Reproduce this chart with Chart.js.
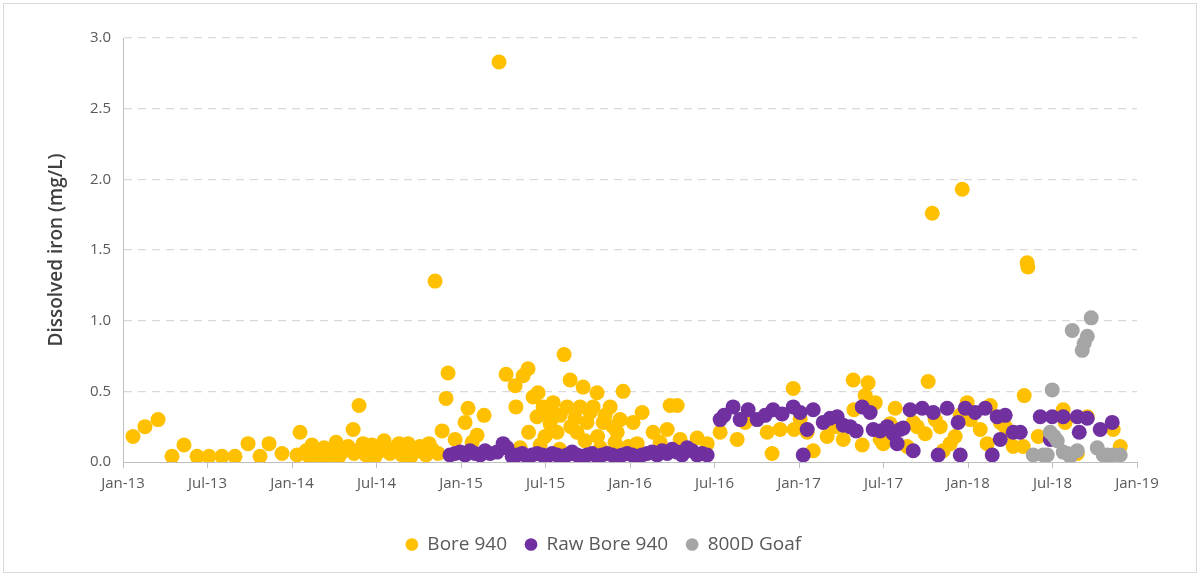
<!DOCTYPE html>
<html>
<head>
<meta charset="utf-8">
<script src="https://cdn.jsdelivr.net/npm/chart.js@4.4.1/dist/chart.umd.min.js"></script>
<style>
    html, body { margin: 0; padding: 0; background: #fff; }
    #wrap { width: 1200px; height: 576px; }
</style>
</head>
<body>
<div id="wrap"><canvas id="chart" width="1200" height="576"></canvas></div>
<script>
/* x values are months since Jan-2013 */
const tickMonths = [0, 6, 12, 18, 24, 30, 36, 42, 48, 54, 60, 66, 72];
const tickLabels = ["Jan-13", "Jul-13", "Jan-14", "Jul-14", "Jan-15", "Jul-15", "Jan-16",
                    "Jul-16", "Jan-17", "Jul-17", "Jan-18", "Jul-18", "Jan-19"];

// Bore 940
const boreMonths = [0.71, 1.56, 2.49, 3.48, 4.33, 5.26, 6.11, 7.03, 7.95, 8.88, 9.73, 10.37, 11.29, 12.36, 12.57,
    13.0, 13.21, 13.42, 13.85, 14.06, 14.28, 14.70, 15.13, 15.34, 15.55, 15.77, 15.98, 16.34, 16.41, 16.76, 16.83,
    17.05, 17.26, 17.68, 17.90, 18.11, 18.54, 18.75, 18.96, 19.39, 19.60, 19.82, 20.24, 20.45, 20.67, 21.09, 21.31,
    21.52, 21.73, 21.95, 22.16, 22.37, 22.66, 22.94, 23.08, 23.58, 24.29, 24.50, 24.79, 25.14, 25.64, 26.70,
    27.20, 27.84, 27.90, 28.20, 28.41, 28.76, 28.80, 29.12, 29.40, 29.47, 29.62, 29.83, 29.97, 30.18, 30.33, 30.54,
    30.82, 31.00, 31.04, 31.32, 31.53, 31.75, 31.80, 32.10, 32.24, 32.46, 32.67, 32.81, 32.95, 33.17, 33.38, 33.66,
    33.70, 33.90, 34.09, 34.23, 34.59, 34.80, 34.94, 35.09, 35.30, 35.51,
    35.90, 36.22, 36.51, 36.86, 37.64, 38.14, 38.64, 38.85, 39.35, 39.56, 40.77, 41.48,
    42.40, 43.61, 44.18, 45.74, 46.09, 46.66, 47.59, 47.65, 48.08, 48.58, 49.01, 50.00, 50.57, 51.14, 51.85, 51.90,
    52.49, 52.70, 52.91, 53.41, 53.76, 53.98, 54.12, 54.47, 54.83, 55.68, 56.11, 56.39, 56.96, 57.17, 57.46, 57.67,
    58.03, 58.24, 58.74, 59.09, 59.45, 59.59, 59.94, 60.16, 60.87, 61.36, 61.58, 62.29, 62.64, 63.00, 63.21, 63.92,
    63.99, 64.20, 64.25, 64.99, 66.76, 66.90, 67.76, 68.47, 70.31, 70.81];
const boreValues = [0.18, 0.25, 0.30, 0.04, 0.12, 0.04, 0.04, 0.04, 0.04, 0.13, 0.04, 0.13, 0.06, 0.05, 0.21,
    0.08, 0.04, 0.12, 0.06, 0.03, 0.10, 0.05, 0.14, 0.04, 0.07, 0.09, 0.11, 0.23, 0.06, 0.40, 0.09,
    0.13, 0.05, 0.12, 0.04, 0.07, 0.15, 0.09, 0.06, 0.10, 0.13, 0.05, 0.13, 0.04, 0.08, 0.11, 0.07,
    0.05, 0.13, 0.09, 1.28, 0.06, 0.22, 0.45, 0.63, 0.16, 0.28, 0.38, 0.14, 0.19, 0.33, 2.83,
    0.62, 0.54, 0.39, 0.10, 0.61, 0.66, 0.21, 0.46, 0.32, 0.49, 0.12, 0.39, 0.18, 0.35, 0.27, 0.42,
    0.21, 0.09, 0.33, 0.76, 0.39, 0.58, 0.25, 0.31, 0.21, 0.39, 0.53, 0.15, 0.28, 0.35, 0.39, 0.49,
    0.18, 0.10, 0.28, 0.33, 0.39, 0.25, 0.14, 0.21, 0.30, 0.50,
    0.11, 0.28, 0.13, 0.35, 0.21, 0.14, 0.23, 0.40, 0.40, 0.16, 0.17, 0.13,
    0.21, 0.16, 0.28, 0.21, 0.06, 0.23, 0.52, 0.23, 0.30, 0.21, 0.08, 0.18, 0.25, 0.16, 0.58, 0.37,
    0.12, 0.47, 0.56, 0.42, 0.16, 0.13, 0.20, 0.27, 0.38, 0.11, 0.28, 0.25, 0.20, 0.57, 1.76, 0.30,
    0.25, 0.08, 0.13, 0.18, 0.33, 1.93, 0.42, 0.30, 0.23, 0.13, 0.40, 0.28, 0.25, 0.20, 0.11, 0.11,
    0.47, 1.41, 1.38, 0.18, 0.37, 0.28, 0.06, 0.32, 0.23, 0.11];

// Raw Bore 940
const rawMonths = [23.22, 23.58, 23.93, 24.29, 24.64, 25.00, 25.36, 25.71, 26.07, 26.56, 26.99, 27.27, 27.63,
    27.98, 28.34, 28.69, 29.05, 29.40, 29.76, 30.11, 30.47, 30.82, 31.18, 31.53, 31.89, 32.24, 32.60, 32.95,
    33.31, 33.66, 34.02, 34.37, 34.73, 35.09, 35.44, 35.80, 36.15, 36.51, 36.86, 37.22, 37.57, 37.93, 38.28,
    38.64, 38.99, 39.35, 39.70, 40.06, 40.41, 40.77, 41.12, 41.48,
    42.40, 42.68, 43.32, 43.82, 44.39, 45.03, 45.60, 46.16, 46.80, 47.59, 48.08, 48.58, 48.30, 49.01, 49.72,
    50.21, 50.71, 51.14, 51.63, 52.06, 52.49, 53.05, 53.27, 53.76, 54.26, 54.69, 54.97, 55.18, 55.40, 55.89,
    56.11, 56.75, 57.53, 57.88, 58.52, 59.30, 59.45, 59.80, 60.51, 61.22, 61.72, 62.07, 62.29, 62.64, 63.21,
    63.71, 65.13, 65.84, 65.98, 66.76, 67.76, 67.90, 68.47, 69.39, 70.24];
const rawValues = [0.05, 0.06, 0.07, 0.05, 0.08, 0.06, 0.05, 0.08, 0.06, 0.07, 0.13, 0.10, 0.04,
    0.05, 0.06, 0.04, 0.05, 0.06, 0.05, 0.04, 0.06, 0.05, 0.04, 0.05, 0.07, 0.05, 0.04, 0.05,
    0.06, 0.04, 0.05, 0.06, 0.05, 0.04, 0.05, 0.06, 0.05, 0.04, 0.05, 0.06, 0.07, 0.05, 0.08,
    0.06, 0.09, 0.07, 0.05, 0.10, 0.08, 0.05, 0.06, 0.05,
    0.30, 0.33, 0.39, 0.30, 0.37, 0.30, 0.33, 0.37, 0.34, 0.39, 0.35, 0.23, 0.05, 0.37, 0.28,
    0.31, 0.32, 0.26, 0.25, 0.22, 0.39, 0.35, 0.23, 0.22, 0.25, 0.20, 0.13, 0.23, 0.24, 0.37,
    0.08, 0.38, 0.35, 0.05, 0.38, 0.28, 0.05, 0.38, 0.35, 0.38, 0.05, 0.32, 0.16, 0.33, 0.21,
    0.21, 0.32, 0.16, 0.32, 0.32, 0.32, 0.21, 0.31, 0.23, 0.28];

// 800D Goaf
const goafMonths = [64.63, 65.34, 65.63, 65.84, 65.98, 66.12, 66.34, 66.76, 67.05, 67.26, 67.40, 67.76,
    68.11, 68.25, 68.47, 68.75, 69.18, 69.60, 69.89, 70.31, 70.81];
const goafValues = [0.05, 0.05, 0.05, 0.21, 0.51, 0.18, 0.15, 0.07, 0.06, 0.04, 0.93, 0.08,
    0.79, 0.84, 0.89, 1.02, 0.10, 0.05, 0.05, 0.05, 0.05];

function toPoints(xs, ys){
    return xs.map((x, i) => ({ x: x, y: ys[i] }));
}

const textColor = "#595959";
const axisColor = "#bfbfbf";
const gridColor = "#d9d9d9";
const fontFamily = "'Open Sans', sans-serif";

// white page with a thin frame, like the exported image
const framePlugin = {
    id: "frame",
    beforeDraw(chart){
        const ctx = chart.ctx;
        ctx.save();
        ctx.fillStyle = "#ffffff";
        ctx.fillRect(0, 0, chart.width, chart.height);
        ctx.strokeStyle = "#d9d9d9";
        ctx.lineWidth = 1;
        ctx.strokeRect(3.5, 3.5, chart.width - 7, chart.height - 7);
        ctx.restore();
    },
    // the original legend sits a little right of the layout box centre
    afterLayout(chart){
        if (chart.legend) {
            chart.legend.left += 14;
            chart.legend.right += 14;
        }
    }
};

// datasets listed in reverse so Bore 940 sits underneath; legend reversed back
new Chart(document.getElementById("chart"), {
    type: "scatter",
    data: {
        datasets: [
            { label: "800D Goaf", data: toPoints(goafMonths, goafValues), backgroundColor: "#a5a5a5" },
            { label: "Raw Bore 940", data: toPoints(rawMonths, rawValues), backgroundColor: "#7030a0" },
            { label: "Bore 940", data: toPoints(boreMonths, boreValues), backgroundColor: "#ffc000" },
        ],
    },
    options: {
        responsive: false,
        animation: false,
        devicePixelRatio: 1,
        layout: { padding: { left: 42, right: 63, top: 38, bottom: 12 } },
        elements: { point: { radius: 7.5, borderWidth: 0, hoverRadius: 7.5 } },
        scales: {
            x: {
                type: "linear",
                min: 0,
                max: 72,
                afterBuildTicks: (scale) => { scale.ticks = tickMonths.map((v) => ({ value: v })); },
                afterFit: (scale) => { scale.height = 55; },
                ticks: {
                    callback: (v) => tickLabels[tickMonths.indexOf(v)],
                    color: textColor,
                    font: { family: fontFamily, size: 15 },
                    padding: 7,
                    maxRotation: 0,
                },
                grid: { drawOnChartArea: false, drawTicks: true, tickLength: 6, color: axisColor },
                border: { display: true, color: axisColor, width: 1 },
            },
            y: {
                min: 0,
                max: 3,
                afterFit: (scale) => { scale.width = 81; },
                ticks: {
                    stepSize: 0.5,
                    callback: (v) => v.toFixed(1),
                    color: textColor,
                    font: { family: fontFamily, size: 15 },
                    padding: 12,
                },
                grid: {
                    drawTicks: false,
                    lineWidth: 1.3,
                    color: (ctx) => (ctx.tick && ctx.tick.value === 0 ? "rgba(0,0,0,0)" : gridColor),
                },
                border: { display: true, color: axisColor, width: 1, dash: [8, 6] },
                title: {
                    display: true,
                    text: "Dissolved iron (mg/L)",
                    color: "#404040",
                    font: { family: fontFamily, size: 19, weight: "600" },
                    padding: { top: 3, bottom: 4 },
                },
            },
        },
        plugins: {
            legend: {
                position: "bottom",
                reverse: true,
                labels: {
                    usePointStyle: true,
                    pointStyle: "circle",
                    boxHeight: 9,
                    boxWidth: 12,
                    color: textColor,
                    font: { family: fontFamily, size: 19 },
                    padding: 18,
                },
            },
            tooltip: { enabled: false },
        },
    },
    plugins: [framePlugin],
});
</script>
</body>
</html>
